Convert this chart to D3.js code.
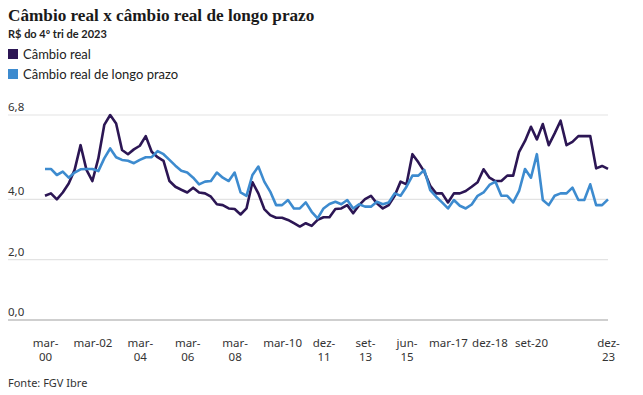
<!DOCTYPE html>
<html>
<head>
<meta charset="utf-8">
<script src="https://cdn.jsdelivr.net/npm/d3@7"></script>
<style>
  body { margin: 0; background: #fff; }
  svg { display: block; }
  .title { font-family: "Liberation Serif", serif; font-weight: bold; font-size: 17.2px; fill: #1a1a1a; }
  .sub { font-family: "Lato", sans-serif; font-weight: bold; font-size: 11px; fill: #222; }
  .legend { font-family: "Lato", sans-serif; font-size: 13px; fill: #222; }
  .axis text { font-family: "Noto Sans", sans-serif; font-size: 11.5px; fill: #333; }
  .source { font-family: "Noto Sans", sans-serif; font-size: 11px; fill: #333; }
</style>
</head>
<body>
<svg id="chart" width="643" height="395"></svg>
<script>
// quarterly, mar-00 .. dez-23
const months = ['mar', 'jun', 'set', 'dez'];
const quarters = [];
for (let y = 2000; y <= 2023; y++) {
  months.forEach(m => quarters.push(`${m}-${String(y).slice(2)}`));
}

const cambioReal = [
  4.12, 4.20, 4.00, 4.23, 4.53, 4.98, 5.80, 4.98, 4.61, 5.36,
  6.47, 6.80, 6.52, 5.64, 5.50, 5.66, 5.78, 6.10, 5.58, 5.40,
  5.28, 4.61, 4.42, 4.32, 4.23, 4.39, 4.23, 4.20, 4.09, 3.84,
  3.81, 3.70, 3.68, 3.50, 3.70, 4.57, 4.20, 3.68, 3.48, 3.39,
  3.39, 3.32, 3.21, 3.10, 3.21, 3.12, 3.32, 3.41, 3.41, 3.68,
  3.70, 3.81, 3.54, 3.81, 4.01, 4.12, 3.87, 3.70, 3.81, 4.12,
  4.59, 4.50, 5.50, 5.23, 4.92, 4.45, 4.20, 4.20, 3.90, 4.20,
  4.20, 4.28, 4.42, 4.57, 5.00, 4.72, 4.61, 4.61, 4.79, 4.79,
  5.58, 5.94, 6.41, 5.99, 6.50, 5.80, 6.19, 6.61, 5.80, 5.91,
  6.10, 6.10, 6.10, 5.03, 5.11, 5.01
];

const cambioLongo = [
  5.01, 5.01, 4.81, 4.92, 4.72, 4.89, 5.00, 5.01, 5.01, 4.94,
  5.36, 5.69, 5.40, 5.31, 5.28, 5.20, 5.31, 5.40, 5.40, 5.60,
  5.50, 5.31, 5.12, 4.95, 4.89, 4.72, 4.50, 4.59, 4.61, 4.89,
  4.72, 4.61, 4.89, 4.23, 4.12, 4.81, 5.09, 4.59, 4.26, 3.81,
  3.81, 3.98, 3.70, 3.70, 3.90, 3.59, 3.37, 3.70, 3.85, 3.92,
  3.84, 3.98, 3.70, 3.84, 3.76, 3.76, 3.92, 3.84, 3.90, 4.20,
  4.12, 4.42, 4.79, 4.79, 4.98, 4.31, 4.09, 3.90, 3.70, 3.98,
  3.79, 3.70, 3.83, 4.12, 4.23, 4.48, 4.59, 4.12, 4.12, 3.90,
  4.28, 5.01, 4.72, 5.50, 3.98, 3.81, 4.12, 4.20, 4.20, 4.39,
  3.98, 3.98, 4.50, 3.81, 3.81, 4.00
];

const yTicks = [0, 2, 4, 6.8];
const xTickLabels = ['mar-00', 'mar-02', 'mar-04', 'mar-06', 'mar-08', 'mar-10',
  'dez-11', 'set-13', 'jun-15', 'mar-17', 'dez-18', 'set-20', 'dez-23'];
const wrappedLabels = ['mar-00', 'mar-04', 'mar-06', 'mar-08', 'dez-11', 'set-13', 'jun-15', 'dez-23'];

const series = [
  { name: 'Câmbio real', values: cambioReal, color: '#2c1654' },
  { name: 'Câmbio real de longo prazo', values: cambioLongo, color: '#3d8bcf' }
];

const svg = d3.select('#chart');

const x = d3.scaleLinear().domain([0, quarters.length - 1]).range([45, 608]);
const y = d3.scaleLinear().domain([0, 6.8]).range([320, 115]);
const gridLeft = 8, gridRight = 608;

svg.append('text').attr('class', 'title').attr('x', 8).attr('y', 21)
  .text('Câmbio real x câmbio real de longo prazo');
svg.append('text').attr('class', 'sub').attr('x', 8).attr('y', 38)
  .text('R$ do 4º tri de 2023');

series.forEach((s, i) => {
  const g = svg.append('g').attr('transform', `translate(8,${49 + i * 20})`);
  g.append('rect').attr('width', 10).attr('height', 10).attr('fill', s.color);
  g.append('text').attr('class', 'legend').attr('x', 15).attr('y', 9.5).text(s.name);
});

// y grid + labels
const fmt = v => d3.format('.1f')(v).replace('.', ',');
const yg = svg.append('g').attr('class', 'axis');
yTicks.forEach(t => {
  yg.append('line')
    .attr('x1', gridLeft).attr('x2', gridRight)
    .attr('y1', y(t)).attr('y2', y(t))
    .attr('stroke', t === 0 ? '#cfcfcf' : '#e3e3e3')
    .attr('stroke-width', t === 0 ? 2 : 1.2);
  yg.append('text').attr('x', gridLeft).attr('y', y(t) - 4).text(fmt(t));
});

// x axis labels, some wrapped over two lines
const xAxis = d3.axisBottom(x)
  .tickValues(xTickLabels.map(l => quarters.indexOf(l)))
  .tickSize(0)
  .tickFormat(i => quarters[i]);
const xg = svg.append('g').attr('class', 'axis')
  .attr('transform', 'translate(0,335)')
  .call(xAxis);
xg.select('.domain').remove();
xg.selectAll('.tick').each(function(i) {
  const label = quarters[i];
  const tick = d3.select(this);
  tick.select('text').attr('y', 12).attr('dy', null);
  if (wrappedLabels.includes(label)) {
    const parts = label.split('-');
    tick.select('text').text(parts[0] + '-');
    tick.append('text').attr('y', 25.5).attr('fill', 'currentColor').text(parts[1]);
  }
});

const line = d3.line().x((d, i) => x(i)).y(d => y(d));
series.forEach(s => {
  svg.append('path').datum(s.values)
    .attr('fill', 'none')
    .attr('stroke', s.color)
    .attr('stroke-width', 2.6)
    .attr('stroke-linejoin', 'round')
    .attr('d', line);
});

svg.append('text').attr('class', 'source').attr('x', 8).attr('y', 387).text('Fonte: FGV Ibre');
</script>
</body>
</html>
